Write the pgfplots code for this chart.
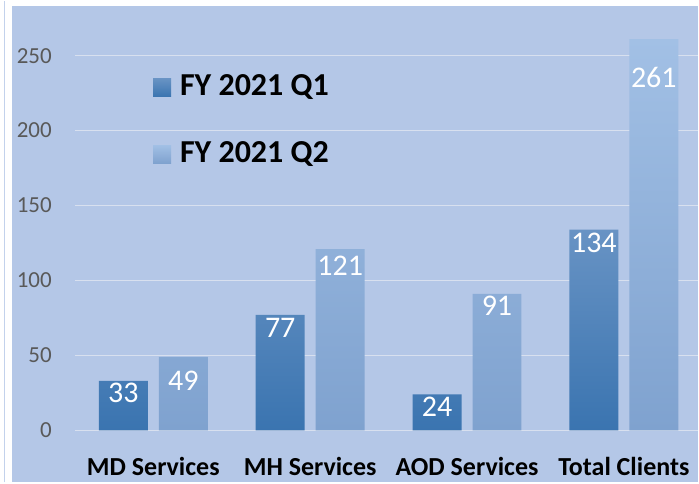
\documentclass[border=0pt]{standalone}
\usepackage{pgfplots}
\usepackage{pgfplotstable}
\pgfplotsset{compat=1.18}
\usepackage{fontspec}
\setmainfont{Carlito}

\definecolor{bg}{HTML}{B4C7E7}
\definecolor{gridc}{HTML}{D8E0EF}
\definecolor{tickc}{HTML}{595959}
\definecolor{qonetop}{HTML}{6893C4}
\definecolor{qonemid}{HTML}{4A88C6}
\definecolor{qonebot}{HTML}{3A74B0}
\definecolor{qtwotop}{HTML}{A2C0E5}
\definecolor{qtwomid}{HTML}{94B8E3}
\definecolor{qtwobot}{HTML}{7FA2CF}

% x: category, q1/q2: values, o1/o2: label offset below the bar top (pt)
\pgfplotstableread{
x q1  q2  o1   o2
0 33  49  -1.5 -13.5
1 77  121 -3   -7
2 24  91  -2.5 -2
3 134 261 -3   -28
}\datatable

\begin{document}
\begin{tikzpicture}[x=1pt,y=1pt]
\fill[white] (0,0) rectangle (699,482);
\fill[bg] (12,0) rectangle (699,477);
\draw[color=bg!80!white, line width=1.5pt] (4.5,0) -- (4.5,482);

\begin{axis}[at={(75pt,52pt)}, anchor=south west,
  scale only axis, width=624pt, height=420pt,
  xmin=-0.5, xmax=3.475, ymin=0, ymax=280,
  clip=false,
  axis line style={draw=none},
  major tick length=0pt,
  ytick={0,50,100,150,200,250},
  ymajorgrids, grid style={gridc, line width=1.3pt},
  xtick={0,1,2,3},
  xticklabels={MD Services,MH Services,AOD Services,Total Clients},
  /pgf/number format/assume math mode=true,
  yticklabel style={font=\fontsize{23}{28}\selectfont, text=tickc,
    inner sep=0pt, anchor=east, xshift=-23pt},
  xticklabel style={font=\bfseries\fontsize{26}{31}\selectfont, text=black,
    inner sep=0pt, anchor=north, yshift=-27pt},
  legend cell align=left,
  legend style={at={(0.125,0.8476)}, anchor=north west, draw=none, fill=none,
    inner sep=0pt, row sep=44pt,
    font=\bfseries\fontsize{32}{38}\selectfont,
    nodes={inner sep=0pt},
    /tikz/every odd column/.append style={column sep=9pt}},
]
\addplot[ybar, bar width=49pt, bar shift=-30pt, draw=none,
  top color=qonetop, middle color=qonemid, bottom color=qonebot,
  legend image code/.code={\fill[top color=qonetop, bottom color=qonebot]
    (0pt,-10.5pt) rectangle (18pt,7.5pt);}]
  table[x=x, y=q1] {\datatable};
\addlegendentry{FY 2021 Q1}
\addplot[ybar, bar width=49pt, bar shift=30pt, draw=none,
  top color=qtwotop, middle color=qtwomid, bottom color=qtwobot,
  legend image code/.code={\fill[top color=qtwotop, bottom color=qtwobot]
    (0pt,-10.5pt) rectangle (18pt,7.5pt);}]
  table[x=x, y=q2] {\datatable};
\addlegendentry{FY 2021 Q2}

% data labels
\addplot[draw=none, mark=none, forget plot, nodes near coords,
  visualization depends on={\thisrow{o1} \as \off},
  every node near coord/.append style={anchor=north, inner sep=0pt,
    text=white, font=\fontsize{30}{36}\selectfont,
    xshift=-30pt, yshift=\off pt}]
  table[x=x, y=q1] {\datatable};
\addplot[draw=none, mark=none, forget plot, nodes near coords,
  visualization depends on={\thisrow{o2} \as \off},
  every node near coord/.append style={anchor=north, inner sep=0pt,
    text=white, font=\fontsize{30}{36}\selectfont,
    xshift=30pt, yshift=\off pt}]
  table[x=x, y=q2] {\datatable};
\end{axis}
\end{tikzpicture}
\end{document}
